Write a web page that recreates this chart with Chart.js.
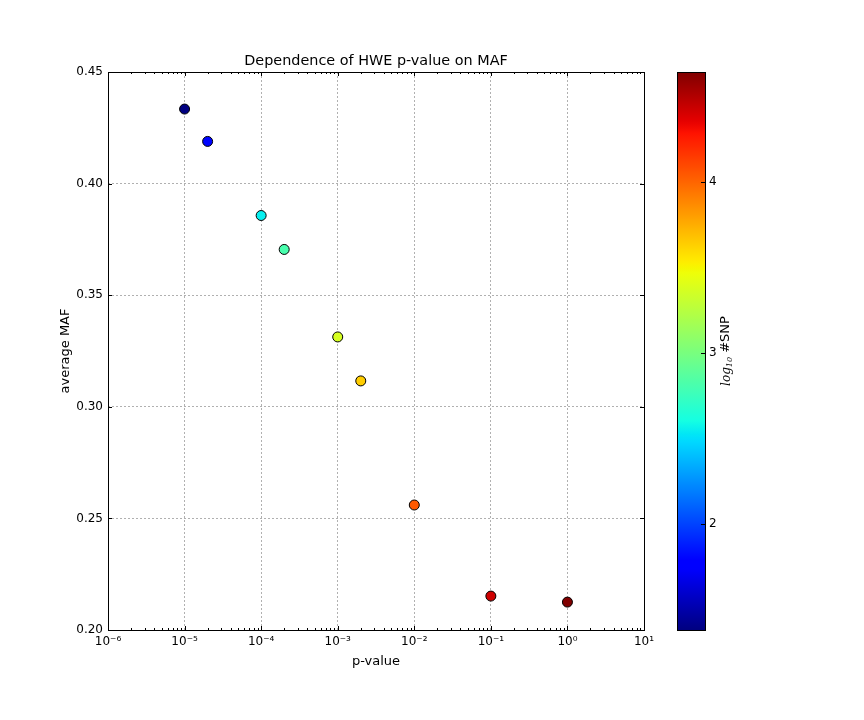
<!DOCTYPE html>
<html><head><meta charset="utf-8">
<script src="https://cdn.jsdelivr.net/npm/chart.js@4"></script>
<style>
html,body{margin:0;padding:0;background:#fff;}
#wrap{position:relative;width:864px;height:720px;background:#fff;}
#main{position:absolute;left:0;top:0;}
#cbar{position:absolute;left:660px;top:0;}
</style></head><body>
<div id="wrap"><canvas id="main" width="864" height="720"></canvas><canvas id="cbar" width="204" height="720"></canvas></div>
<script>
// ---- data ----
const pValues  = [1e-5, 2e-5, 1e-4, 2e-4, 1e-3, 2e-3, 1e-2, 1e-1, 1];
const avgMAF   = [0.4334, 0.4189, 0.3857, 0.3705, 0.3313, 0.3116, 0.2560, 0.2152, 0.2125];
const log10SNP = [1.38, 1.80, 2.55, 2.81, 3.37, 3.64, 4.04, 4.42, 4.64];
const xMajorExponents = [-6, -5, -4, -3, -2, -1, 0, 1];
const xMinorMultiples = [2, 3, 4, 5, 6, 7, 8, 9];
const yTicks  = [0.20, 0.25, 0.30, 0.35, 0.40, 0.45];
const cbTicks = [2, 3, 4];

// ---- helpers ----
const FONT = 'DejaVu Sans';
const vmin = Math.min(...log10SNP), vmax = Math.max(...log10SNP);
const JR = [[0,0],[0.35,0],[0.66,1],[0.89,1],[1,0.5]];
const JG = [[0,0],[0.125,0],[0.375,1],[0.64,1],[0.91,0],[1,0]];
const JB = [[0,0.5],[0.11,1],[0.34,1],[0.65,0],[1,0]];
function seg(p, t){
  t = Math.max(0, Math.min(1, t));
  for (let i = 0; i < p.length - 1; i++){
    if (t <= p[i+1][0]){
      const f = (t - p[i][0]) / (p[i+1][0] - p[i][0]);
      return p[i][1] + f * (p[i+1][1] - p[i][1]);
    }
  }
  return p[p.length-1][1];
}
function jet(t){
  return 'rgb(' + Math.round(seg(JR,t)*255) + ',' + Math.round(seg(JG,t)*255) + ',' + Math.round(seg(JB,t)*255) + ')';
}
const SUP = {'-':'\u207B','0':'\u2070','1':'\u00B9','2':'\u00B2','3':'\u00B3','4':'\u2074','5':'\u2075','6':'\u2076','7':'\u2077','8':'\u2078','9':'\u2079'};
const sup = s => String(s).split('').map(c => SUP[c] || c).join('');
const isMajor = v => v > 0 && Math.abs(Math.log10(v) - Math.round(Math.log10(v))) < 1e-9;

const xTickValues = [];
xMajorExponents.forEach((e, i) => {
  xTickValues.push(Math.pow(10, e));
  if (i < xMajorExponents.length - 1) xMinorMultiples.forEach(m => xTickValues.push(m * Math.pow(10, e)));
});

const points = pValues.map((p, i) => ({x: p, y: avgMAF[i]}));
const colors = log10SNP.map(v => jet((v - vmin) / (vmax - vmin)));

// ---- inward ticks + frame plugin ----
const framePlugin = {
  id: 'frame',
  afterDraw(chart){
    const {ctx, chartArea: a, scales} = chart;
    ctx.save();
    ctx.strokeStyle = '#000';
    ctx.lineWidth = 1;
    ctx.setLineDash([]);
    const xs = scales.x, ys = scales.y;
    ctx.beginPath();
    xs.ticks.forEach(t => {
      const px = Math.round(xs.getPixelForValue(t.value)) + 0.5;
      const L = isMajor(t.value) ? 4 : 2;
      ctx.moveTo(px, a.bottom); ctx.lineTo(px, a.bottom - L);
      ctx.moveTo(px, a.top); ctx.lineTo(px, a.top + L);
    });
    ys.ticks.forEach(t => {
      const py = Math.round(ys.getPixelForValue(t.value)) + 0.5;
      ctx.moveTo(a.left, py); ctx.lineTo(a.left + 4, py);
      ctx.moveTo(a.right, py); ctx.lineTo(a.right - 4, py);
    });
    ctx.stroke();
    ctx.strokeRect(Math.round(a.left) + 0.5, Math.round(a.top) + 0.5, Math.round(a.right - a.left), Math.round(a.bottom - a.top));
    ctx.restore();
  }
};

new Chart(document.getElementById('main'), {
  type: 'scatter',
  data: { datasets: [{
    data: points,
    pointRadius: 5,
    pointHoverRadius: 5,
    pointBackgroundColor: colors,
    pointBorderColor: '#000',
    pointBorderWidth: 1
  }]},
  options: {
    responsive: false,
    animation: false,
    devicePixelRatio: 1,
    layout: { padding: { left: 0, right: 220, top: 0, bottom: 0 } },
    plugins: {
      legend: { display: false },
      tooltip: { enabled: false },
      title: {
        display: true, fullSize: false,
        text: 'Dependence of HWE p-value on MAF',
        color: '#000',
        font: { family: FONT, size: 14.4, weight: 'normal' },
        padding: { top: 53, bottom: 1.72 }
      }
    },
    scales: {
      x: {
        type: 'logarithmic', min: 1e-6, max: 10,
        afterBuildTicks: s => { s.ticks = xTickValues.map(v => ({value: v, major: isMajor(v)})); },
        afterFit: s => { s.height = 90; },
        ticks: {
          autoSkip: false, maxRotation: 0, minRotation: 0, padding: 5,
          color: '#000', font: { family: FONT, size: 12 },
          callback: v => isMajor(v) ? '10' + sup(Math.round(Math.log10(v))) : ''
        },
        grid: {
          drawTicks: false, lineWidth: 1,
          color: c => (c.tick && isMajor(c.tick.value)) ? '#b0b0b0' : 'rgba(0,0,0,0)'
        },
        border: { display: false, dash: [2, 2] },
        title: { display: true, text: 'p-value', color: '#000', font: { family: FONT, size: 13 }, padding: { top: 0, bottom: 50.2 } }
      },
      y: {
        type: 'linear', min: 0.2, max: 0.45,
        afterBuildTicks: s => { s.ticks = yTicks.map(v => ({value: v})); },
        afterFit: s => { s.width = 108; },
        ticks: {
          padding: 5, color: '#000', font: { family: FONT, size: 12 },
          callback: v => Number(v).toFixed(2)
        },
        grid: { drawTicks: false, lineWidth: 1, color: '#b0b0b0' },
        border: { display: false, dash: [2, 2] },
        title: { display: true, text: 'average MAF', color: '#000', font: { family: FONT, size: 13 }, padding: { top: 58.2, bottom: 0 } }
      }
    }
  },
  plugins: [framePlugin]
});

// ---- colorbar ----
const cbPlugin = {
  id: 'cbframe',
  afterDraw(chart){
    const {ctx, chartArea: a, scales} = chart;
    const ys = scales.y;
    ctx.save();
    ctx.strokeStyle = '#000'; ctx.lineWidth = 1; ctx.setLineDash([]);
    ctx.beginPath();
    ys.ticks.forEach(t => {
      const py = Math.round(ys.getPixelForValue(t.value)) + 0.5;
      ctx.moveTo(a.right, py); ctx.lineTo(a.right - 4, py);
    });
    ctx.stroke();
    ctx.strokeRect(Math.round(a.left) + 0.5, Math.round(a.top) + 0.5, Math.round(a.right - a.left), Math.round(a.bottom - a.top));
    // rotated label: log10 #SNP
    ctx.fillStyle = '#000';
    ctx.textBaseline = 'middle';
    const f1 = 'italic 12px "DejaVu Serif"', f2 = 'italic 8px "DejaVu Serif"', f3 = '13px "DejaVu Sans"';
    ctx.font = f1; const w1 = ctx.measureText('log').width;
    ctx.font = f2; const w2 = ctx.measureText('10').width;
    ctx.font = f3; const w3 = ctx.measureText(' #SNP').width;
    const total = w1 + w2 + w3;
    const cx = a.right + 21, cy = (a.top + a.bottom) / 2;
    ctx.translate(cx, cy);
    ctx.rotate(-Math.PI / 2);
    let x0 = -total / 2;
    ctx.textAlign = 'left';
    ctx.font = f1; ctx.fillText('log', x0, 1); x0 += w1;
    ctx.font = f2; ctx.fillText('10', x0, 4); x0 += w2;
    ctx.font = f3; ctx.fillText(' #SNP', x0, 0);
    ctx.restore();
  }
};

new Chart(document.getElementById('cbar'), {
  type: 'bar',
  data: { labels: ['cb'], datasets: [{
    data: [[vmin, vmax]],
    barPercentage: 1, categoryPercentage: 1, borderWidth: 0,
    backgroundColor: c => {
      const chart = c.chart;
      if (!chart.chartArea) return '#000';
      const ys = chart.scales.y;
      const g = chart.ctx.createLinearGradient(0, ys.getPixelForValue(vmin), 0, ys.getPixelForValue(vmax));
      for (let i = 0; i <= 128; i++) g.addColorStop(i / 128, jet(i / 128));
      return g;
    }
  }]},
  options: {
    responsive: false, animation: false, devicePixelRatio: 1,
    layout: { padding: { left: 17, top: 72, bottom: 90, right: 0 } },
    plugins: { legend: { display: false }, tooltip: { enabled: false } },
    scales: {
      x: { display: false },
      y: {
        position: 'right', min: vmin, max: vmax,
        afterBuildTicks: s => { s.ticks = cbTicks.map(v => ({value: v})); },
        afterFit: s => { s.width = 159; },
        ticks: { padding: 4, color: '#000', font: { family: FONT, size: 12 } },
        grid: { display: false, drawTicks: false },
        border: { display: false }
      }
    }
  },
  plugins: [cbPlugin]
});
</script>
</body></html>
